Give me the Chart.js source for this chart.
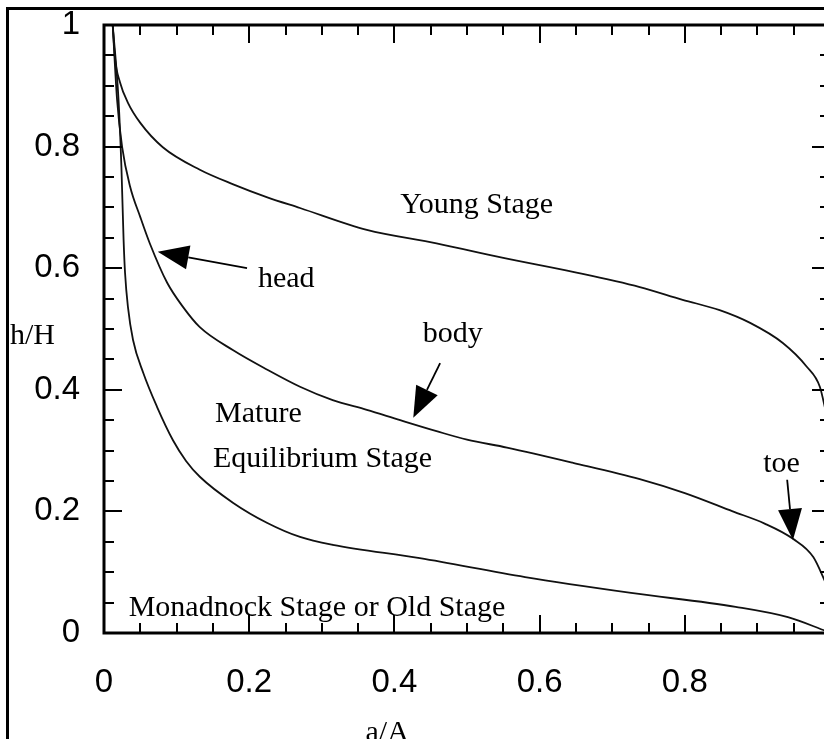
<!DOCTYPE html>
<html><head><meta charset="utf-8">
<script src="https://cdn.jsdelivr.net/npm/chart.js@4/dist/chart.umd.min.js"></script>
<style>html,body{margin:0;padding:0;background:#fff;overflow:hidden;width:824px;height:739px}canvas{display:block}</style>
</head><body>
<canvas id="c" width="840" height="739"></canvas>
<script>
// ---- data ----
const youngX = [0.012, 0.015, 0.022, 0.033, 0.050, 0.081, 0.132, 0.178, 0.224, 0.27, 0.362, 0.458, 0.55, 0.646, 0.738, 0.797, 0.848, 0.890, 0.935, 0.968, 0.986, 0.995];
const youngY = [1.0, 0.947, 0.906, 0.872, 0.839, 0.799, 0.762, 0.738, 0.717, 0.699, 0.663, 0.641, 0.617, 0.594, 0.569, 0.548, 0.531, 0.510, 0.477, 0.438, 0.405, 0.36];

const matureX = [0.012, 0.018, 0.025, 0.036, 0.050, 0.063, 0.087, 0.109, 0.132, 0.178, 0.225, 0.27, 0.315, 0.362, 0.408, 0.458, 0.50, 0.555, 0.646, 0.738, 0.800, 0.866, 0.910, 0.949, 0.977, 0.995];
const matureY = [1.0, 0.877, 0.799, 0.734, 0.684, 0.641, 0.576, 0.536, 0.503, 0.465, 0.433, 0.405, 0.383, 0.367, 0.350, 0.332, 0.318, 0.305, 0.280, 0.253, 0.230, 0.200, 0.180, 0.155, 0.125, 0.08];

const oldX = [0.012, 0.020, 0.024, 0.027, 0.029, 0.033, 0.040, 0.054, 0.073, 0.095, 0.113, 0.132, 0.178, 0.225, 0.27, 0.315, 0.435, 0.58, 0.726, 0.87, 0.942, 0.995];
const oldY = [1.0, 0.877, 0.766, 0.646, 0.592, 0.536, 0.482, 0.428, 0.372, 0.317, 0.283, 0.257, 0.214, 0.181, 0.158, 0.145, 0.123, 0.092, 0.066, 0.043, 0.026, 0.003];

const xTickLabels = ['0', '0.2', '0.4', '0.6', '0.8', ''];
const yTickLabels = ['0', '0.2', '0.4', '0.6', '0.8', '1'];
const xTitle = 'a/A';
const yTitle = 'h/H';

const labelTexts = ['Young Stage', 'head', 'body', 'Mature', 'Equilibrium Stage', 'toe', 'Monadnock Stage or Old Stage'];
const labelX = [0.408, 0.212, 0.439, 0.153, 0.150, 0.908, 0.034];
const labelY = [0.691, 0.569, 0.479, 0.347, 0.273, 0.265, 0.028];

const arrowFromX = [0.197, 0.463, 0.941];
const arrowFromY = [0.600, 0.444, 0.252];
const arrowToX = [0.074, 0.426, 0.949];
const arrowToY = [0.627, 0.354, 0.153];

const toPts = (xs, ys) => xs.map((v, i) => ({x: v, y: ys[i]}));
const lineStyle = {showLine: true, pointRadius: 0, borderColor: '#111', borderWidth: 1.8, cubicInterpolationMode: 'monotone', fill: false};

const decor = {
  id: 'decor',
  afterDraw(chart) {
    const {ctx, chartArea: a, scales: {x, y}} = chart;
    ctx.save();
    ctx.strokeStyle = '#000';
    ctx.fillStyle = '#000';
    // outer frame
    ctx.lineWidth = 3;
    ctx.beginPath(); ctx.moveTo(7.5, 745); ctx.lineTo(7.5, 8.5); ctx.lineTo(850, 8.5); ctx.stroke();
    // axes box
    ctx.lineWidth = 3;
    ctx.strokeRect(a.left, a.top, a.right - a.left, a.bottom - a.top);
    // ticks
    ctx.lineWidth = 2;
    for (let k = 1; k < 20; k++) {
      const v = k / 20;
      const len = (k % 4 === 0) ? 18 : 10;
      const px = Math.round(x.getPixelForValue(v));
      const py = Math.round(y.getPixelForValue(v));
      ctx.beginPath();
      ctx.moveTo(px, a.bottom); ctx.lineTo(px, a.bottom - len);
      ctx.moveTo(px, a.top); ctx.lineTo(px, a.top + len);
      ctx.moveTo(a.left, py); ctx.lineTo(a.left + len, py);
      ctx.moveTo(a.right, py); ctx.lineTo(a.right - len, py);
      ctx.stroke();
    }
    // annotations
    ctx.font = '30px "Liberation Serif", "Times New Roman", serif';
    ctx.textAlign = 'left';
    ctx.textBaseline = 'alphabetic';
    labelTexts.forEach((t, i) => ctx.fillText(t, x.getPixelForValue(labelX[i]), y.getPixelForValue(labelY[i])));
    // axis titles
    ctx.fillText(yTitle, a.left - 94, y.getPixelForValue(0.475));
    ctx.textAlign = 'center';
    ctx.fillText(xTitle, x.getPixelForValue(0.39), a.bottom + 108);
    // arrows
    ctx.lineWidth = 1.8;
    for (let i = 0; i < arrowFromX.length; i++) {
      const x0 = x.getPixelForValue(arrowFromX[i]), y0 = y.getPixelForValue(arrowFromY[i]);
      const x1 = x.getPixelForValue(arrowToX[i]), y1 = y.getPixelForValue(arrowToY[i]);
      const ang = Math.atan2(y1 - y0, x1 - x0);
      const L = 31, W = 12;
      const bx = x1 - L * Math.cos(ang), by = y1 - L * Math.sin(ang);
      ctx.beginPath(); ctx.moveTo(x0, y0); ctx.lineTo(bx, by); ctx.stroke();
      ctx.beginPath();
      ctx.moveTo(x1, y1);
      ctx.lineTo(bx + W * Math.sin(ang), by - W * Math.cos(ang));
      ctx.lineTo(bx - W * Math.sin(ang), by + W * Math.cos(ang));
      ctx.closePath(); ctx.fill();
    }
    ctx.restore();
  }
};

const tickFont = {family: '"Liberation Sans", Arial, sans-serif', size: 33};
const noPad = (s) => { s.paddingTop = 0; s.paddingBottom = 0; s.paddingLeft = 0; s.paddingRight = 0; };

new Chart(document.getElementById('c'), {
  type: 'scatter',
  data: {
    datasets: [
      Object.assign({label: 'Young Stage', data: toPts(youngX, youngY)}, lineStyle),
      Object.assign({label: 'Mature Equilibrium Stage', data: toPts(matureX, matureY)}, lineStyle),
      Object.assign({label: 'Monadnock Stage or Old Stage', data: toPts(oldX, oldY)}, lineStyle)
    ]
  },
  options: {
    responsive: false,
    animation: false,
    layout: {padding: {left: 0, top: 25, right: 10, bottom: 0}},
    plugins: {legend: {display: false}, tooltip: {enabled: false}},
    scales: {
      x: {
        type: 'linear', min: 0, max: 1,
        grid: {display: false, drawTicks: false},
        border: {display: false},
        ticks: {stepSize: 0.2, autoSkip: false, maxRotation: 0, padding: 30, color: '#000', font: tickFont,
          callback: (v) => xTickLabels[Math.round(v * 5)]},
        afterFit: (s) => { s.height = 106; noPad(s); }
      },
      y: {
        type: 'linear', min: 0, max: 1,
        grid: {display: false, drawTicks: false},
        border: {display: false},
        ticks: {stepSize: 0.2, autoSkip: false, padding: 24, color: '#000', font: tickFont,
          callback: (v) => yTickLabels[Math.round(v * 5)]},
        afterFit: (s) => { s.width = 104; noPad(s); }
      }
    }
  },
  plugins: [decor]
});
</script>
</body></html>
